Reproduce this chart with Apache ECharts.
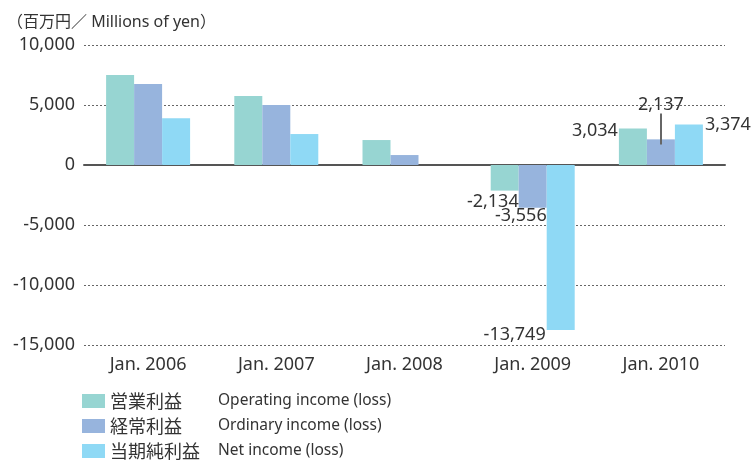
<!DOCTYPE html>
<html>
<head>
<meta charset="utf-8">
<script src="https://cdn.jsdelivr.net/npm/echarts@6/dist/echarts.min.js"></script>
<style>
  html, body { margin: 0; padding: 0; background: #fff; }
  #chart { width: 753px; height: 462px; }
</style>
</head>
<body>
<div id="chart"></div>
<script>
// 数据
var categories = ['Jan. 2006', 'Jan. 2007', 'Jan. 2008', 'Jan. 2009', 'Jan. 2010'];
var seriesNamesJp = ['営業利益', '経常利益', '当期純利益'];
var seriesNamesEn = ['Operating income (loss)', 'Ordinary income (loss)', 'Net income (loss)'];
var operatingIncome = [7500, 5750, 2080, -2134, 3034];
var ordinaryIncome = [6750, 5000, 830, -3556, 2137];
var netIncome = [3900, 2580, null, -13749, 3374];
var yTicks = [-15000, -10000, -5000, 0, 5000, 10000];
// 2,137 的引线（数值范围）
var leaderLine = [1700, 4300];

var colors = ['#97d5d2', '#97b4dd', '#8fd9f5'];
var fontEn = '"Noto Sans", "Noto Sans CJK JP", sans-serif';

function fmt(v) {
    return v.toLocaleString('en-US');
}

// 只给部分柱子加标签
function labelled(values, labels) {
    return values.map(function (v, i) {
        if (labels[i]) {
            return { value: v, label: Object.assign({ show: true, formatter: fmt(v) }, labels[i]) };
        }
        return v;
    });
}

var labelBase = { color: '#333', fontSize: 18, fontFamily: fontEn };

var opData = labelled(operatingIncome, {
    3: Object.assign({ position: 'bottom', align: 'right', distance: 2, offset: [14, 0] }, labelBase),
    4: Object.assign({ position: 'left', distance: 1, offset: [0, -16] }, labelBase)
});
var ordData = labelled(ordinaryIncome, {
    3: Object.assign({ position: 'bottom', align: 'right', distance: -1, offset: [14, 0] }, labelBase),
    4: Object.assign({ position: 'top', distance: 25 }, labelBase)
});
var netData = labelled(netIncome, {
    3: Object.assign({ position: 'bottom', align: 'right', distance: -4, offset: [-15, 0] }, labelBase),
    4: Object.assign({ position: 'right', distance: 2, offset: [0, -20] }, labelBase)
});

var option = {
    animation: false,
    color: colors,
    title: {
        text: '（百万円／ Millions of yen）',
        left: 2,
        top: 9,
        textStyle: { fontSize: 16, fontWeight: 'normal', color: '#333', fontFamily: fontEn }
    },
    grid: { left: 84, right: 28, top: 45, bottom: 117 },
    legend: {
        orient: 'vertical',
        left: 82,
        top: 392,
        height: 100,
        padding: 0,
        itemWidth: 23,
        itemHeight: 14,
        itemGap: 7,
        icon: 'rect',
        data: seriesNamesJp,
        formatter: function (name) {
            var idx = seriesNamesJp.indexOf(name);
            return '{jp|' + name + '}{en|' + seriesNamesEn[idx] + '}';
        },
        textStyle: {
            rich: {
                jp: { width: 108, fontSize: 18, lineHeight: 20, color: '#333', fontFamily: '"Noto Sans CJK JP", sans-serif' },
                en: { fontSize: 15.5, lineHeight: 20, color: '#333', fontFamily: fontEn }
            }
        }
    },
    xAxis: [
        {
            type: 'category',
            data: categories,
            position: 'bottom',
            axisLine: { show: false, onZero: false },
            axisTick: { show: false },
            axisLabel: { color: '#333', fontSize: 18, margin: 11, fontFamily: fontEn }
        },
        {
            type: 'category',
            data: categories,
            position: 'bottom',
            axisLine: { show: true, onZero: true, lineStyle: { color: '#555', width: 2 } },
            axisTick: { show: false },
            axisLabel: { show: false }
        }
    ],
    yAxis: {
        type: 'value',
        min: yTicks[0],
        max: yTicks[yTicks.length - 1],
        interval: 5000,
        axisLine: { show: false },
        axisTick: { show: false },
        axisLabel: { color: '#333', fontSize: 18, margin: 9, fontFamily: fontEn, formatter: fmt },
        splitLine: { lineStyle: { color: '#666', width: 1, type: [2, 2] } }
    },
    series: [
        {
            name: seriesNamesJp[0], type: 'bar', data: opData,
            barWidth: 28, barGap: '0%'
        },
        {
            name: seriesNamesJp[1], type: 'bar', data: ordData,
            barWidth: 28, barGap: '0%',
            markLine: {
                silent: true,
                symbol: 'none',
                label: { show: false },
                lineStyle: { color: '#666', width: 2, type: 'solid' },
                data: [[
                    { coord: [categories[4], leaderLine[0]] },
                    { coord: [categories[4], leaderLine[1]] }
                ]]
            }
        },
        {
            name: seriesNamesJp[2], type: 'bar', data: netData,
            barWidth: 28, barGap: '0%'
        }
    ]
};

var myechart = echarts.init(document.getElementById('chart'));
myechart.setOption(option);
</script>
</body>
</html>
